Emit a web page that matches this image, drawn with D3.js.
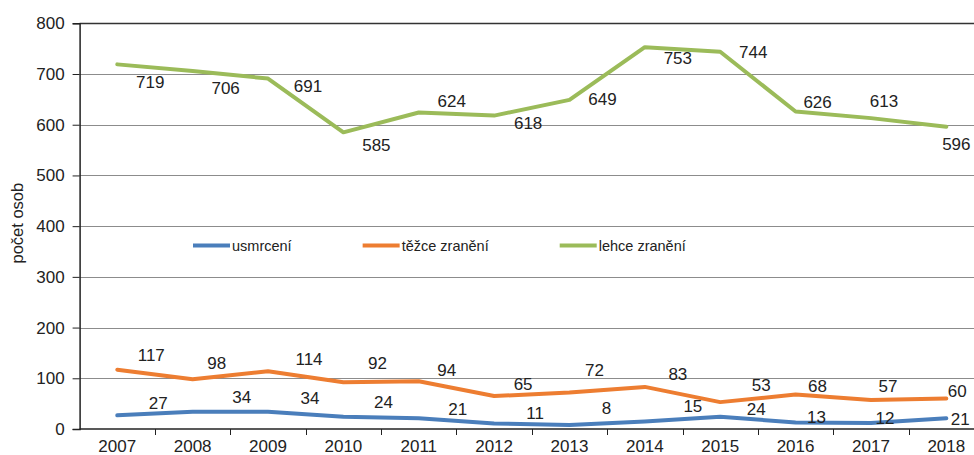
<!DOCTYPE html>
<html>
<head>
<meta charset="utf-8">
<script src="https://cdn.jsdelivr.net/npm/d3@7"></script>
<style>
    body { margin: 0; background: #fff; }
    svg { display: block; font-family: 'Liberation Sans', Arial, sans-serif; }
</style>
</head>
<body>
<svg></svg>
<script>
const WIDTH = 974;
const HEIGHT = 455;

// data
const years = ['2007', '2008', '2009', '2010', '2011', '2012', '2013', '2014', '2015', '2016', '2017', '2018'];
const usmrceni = [27, 34, 34, 24, 21, 11, 8, 15, 24, 13, 12, 21];
const tezceZraneni = [117, 98, 114, 92, 94, 65, 72, 83, 53, 68, 57, 60];
const lehceZraneni = [719, 706, 691, 585, 624, 618, 649, 753, 744, 626, 613, 596];
const yTicks = [0, 100, 200, 300, 400, 500, 600, 700, 800];
const seriesNames = ['usmrcení', 'těžce zranění', 'lehce zranění'];

// label nudges (px, relative to the point) - labels were hand placed in the original
const nudgeBlue = [[41, -12], [49, -15], [42, -14], [40, -15], [39, -9], [41, -11], [37, -17], [48, -16], [36, -8], [21, -6], [14, -5], [14, 1]];
const nudgeOrange = [[34, -15], [24, -16], [41, -12], [34, -19], [28, -11], [29, -12], [25, -23], [33, -13], [41, -17], [22, -9], [17, -14], [11, -8]];
const nudgeGreen = [[33, 18], [33, 17], [40, 7], [33, 13], [33, -12], [34, 7], [33, -1], [33, 11], [33, 0], [22, -10], [13, -17], [10, 17]];

const colors = ['#4a7ebb', '#ed7d31', '#9bbb59'];

const margin = { left: 79.6, top: 23.3, bottom: 26 };
const plotRight = 984; // plot runs past the picture's right edge

let svg = d3.select('svg')
    .attr('width', WIDTH)
    .attr('height', HEIGHT);

let x = d3.scaleBand()
    .domain(years)
    .range([margin.left, plotRight]);
let y = d3.scaleLinear()
    .domain([0, 800])
    .range([HEIGHT - margin.bottom, margin.top]);

// gridlines
svg.append('g')
    .selectAll('line')
    .data(yTicks.filter(d => d > 0))
    .enter()
    .append('line')
        .attr('x1', margin.left)
        .attr('x2', plotRight)
        .attr('y1', d => Math.round(y(d)) + 0.5)
        .attr('y2', d => Math.round(y(d)) + 0.5)
        .attr('stroke', d => d === 800 ? '#333' : '#8c8c8c')
        .attr('stroke-width', d => d === 800 ? 1.5 : 1);

// y axis
let yAxis = svg.append('g')
    .attr('transform', `translate(${margin.left},0)`)
    .call(d3.axisLeft(y).tickValues(yTicks).tickSize(7).tickPadding(8));
yAxis.select('.domain').attr('stroke', '#222').attr('stroke-width', 1.5);
yAxis.selectAll('.tick line').attr('stroke', '#222');
yAxis.selectAll('text')
    .attr('font-size', 17)
    .attr('fill', '#222')
    .attr('font-family', "'Liberation Sans', Arial, sans-serif");

// x axis with ticks between categories
let xAxisG = svg.append('g')
    .attr('transform', `translate(0,${y(0)})`);
xAxisG.append('line')
    .attr('x1', margin.left)
    .attr('x2', plotRight)
    .attr('stroke', '#222')
    .attr('stroke-width', 1.5);
xAxisG.selectAll('line.tk')
    .data(years.slice(1))
    .enter()
    .append('line')
        .classed('tk', true)
        .attr('x1', d => Math.round(x(d)) + 0.5)
        .attr('x2', d => Math.round(x(d)) + 0.5)
        .attr('y1', 0)
        .attr('y2', 6)
        .attr('stroke', '#222');
xAxisG.selectAll('text')
    .data(years)
    .enter()
    .append('text')
        .attr('x', d => x(d) + x.bandwidth() / 2)
        .attr('y', 23)
        .attr('text-anchor', 'middle')
        .attr('font-size', 17)
        .attr('fill', '#222')
        .text(d => d);

// y axis title
svg.append('text')
    .attr('transform', `translate(23,${(y(300) + y(500)) / 2 - 3}) rotate(-90)`)
    .attr('text-anchor', 'middle')
    .attr('font-size', 16.5)
    .attr('fill', '#222')
    .text('počet osob');

// lines + labels
const series = [
    { name: seriesNames[0], values: usmrceni, nudge: nudgeBlue, color: colors[0] },
    { name: seriesNames[1], values: tezceZraneni, nudge: nudgeOrange, color: colors[1] },
    { name: seriesNames[2], values: lehceZraneni, nudge: nudgeGreen, color: colors[2] }
];

let line = d3.line()
    .x((d, i) => x(years[i]) + x.bandwidth() / 2)
    .y(d => y(d));

for (const s of series) {
    svg.append('path')
        .datum(s.values)
        .attr('d', line)
        .attr('fill', 'none')
        .attr('stroke', s.color)
        .attr('stroke-width', 4)
        .attr('stroke-linejoin', 'round')
        .attr('stroke-linecap', 'round');
}
for (const s of series) {
    svg.append('g')
        .selectAll('text')
        .data(s.values)
        .enter()
        .append('text')
            .attr('x', (d, i) => x(years[i]) + x.bandwidth() / 2 + s.nudge[i][0])
            .attr('y', (d, i) => y(d) + s.nudge[i][1])
            .attr('dy', '0.36em')
            .attr('text-anchor', 'middle')
            .attr('font-size', 17)
            .attr('fill', '#222')
            .text(d => d);
}

// legend
let legend = svg.append('g')
    .attr('transform', `translate(193,${Math.round(y(362)) + 0.5})`);
let lx = 0;
series.forEach((s) => {
    let g = legend.append('g').attr('transform', `translate(${lx},0)`);
    g.append('line')
        .attr('x1', 0)
        .attr('x2', 37)
        .attr('stroke', s.color)
        .attr('stroke-width', 4);
    let t = g.append('text')
        .attr('x', 39)
        .attr('dy', '0.36em')
        .attr('font-size', 14.5)
        .attr('fill', '#222')
        .text(s.name);
    lx += 39 + t.node().getComputedTextLength() + 71;
});
</script>
</body>
</html>
